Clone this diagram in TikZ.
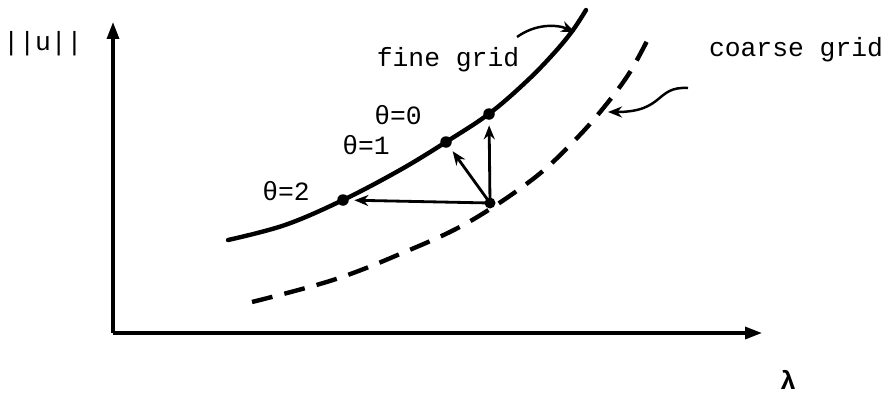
\documentclass[tikz,border=0pt]{standalone}
\usepackage{fontspec}
\usepackage{tikz}
\usetikzlibrary{arrows.meta}
\newfontfamily\typew{Liberation Mono}

\begin{document}
\begin{tikzpicture}[
  x=0.02cm,y=-0.02cm,
  axis/.style={line width=1.9pt,-{Triangle[length=3.4mm,width=2.4mm]}},
  fine/.style={line width=2.5pt,line cap=round},
  coarse/.style={line width=2.5pt,dash pattern=on 12pt off 7pt},
  iter/.style={line width=1.6pt,-{Stealth[length=2.8mm,width=2.2mm]},shorten >=3pt},
  pointer/.style={line width=1.4pt,-{Stealth[length=2.8mm,width=2.2mm]}},
  dot/.style={circle,fill=black,inner sep=0pt,minimum size=2.3mm},
  lbl/.style={font=\typew\fontsize{15}{18}\selectfont,inner sep=0pt},
]
\useasboundingbox (0,0) rectangle (888,396);

% Axes
\coordinate (orig) at (113,333);
\coordinate (ytip) at (113,22);
\coordinate (xtip) at (762,333);
\draw[axis] (orig) -- (ytip);
\draw[axis] (orig) -- (xtip);
\node[lbl] (unorm) at (43,44) {||u||};
\node[lbl,font=\typew\bfseries\fontsize{15}{18}\selectfont] (lam) at (788,380) {λ};

% Curves
\draw[fine] plot[smooth,tension=0.6] coordinates {(228,240) (285,225) (343,200) (400,170) (446,142) (490,113) (528,80) (555,52) (573,30) (586,10)};
\draw[coarse] plot[smooth,tension=0.6] coordinates {(252,302) (333,280) (400,254) (467,223) (533,179) (575,140) (605,106) (630,72) (650,35)};

% Iterates
\coordinate (corner) at (490,203);
\node[dot] (t0) at (489,114) {};
\node[dot] (t1) at (446,142) {};
\node[dot] (t2) at (343,200) {};
\fill (corner) circle (1.1mm);
\draw[iter] (corner) -- (t0);
\draw[iter] (corner) -- (t1);
\draw[iter] (corner) -- (t2);
\node[lbl] (l0) at (398,115) {θ=0};
\node[lbl] (l1) at (366,145) {θ=1};
\node[lbl] (l2) at (286,191) {θ=2};

% Curve labels
\node[lbl] (fg) at (448,60) {fine grid};
\node[lbl] (cg) at (796,50) {coarse grid};
\coordinate (fgs) at (517,37);
\coordinate (fge) at (575,32);
\coordinate (cgs) at (688,88);
\coordinate (cge) at (608,112);
\draw[pointer] (fgs) .. controls (535,24) and (556,24) .. (fge);
\draw[pointer] (cgs) .. controls (655,86) and (665,112) .. (cge);

\end{tikzpicture}
\end{document}
